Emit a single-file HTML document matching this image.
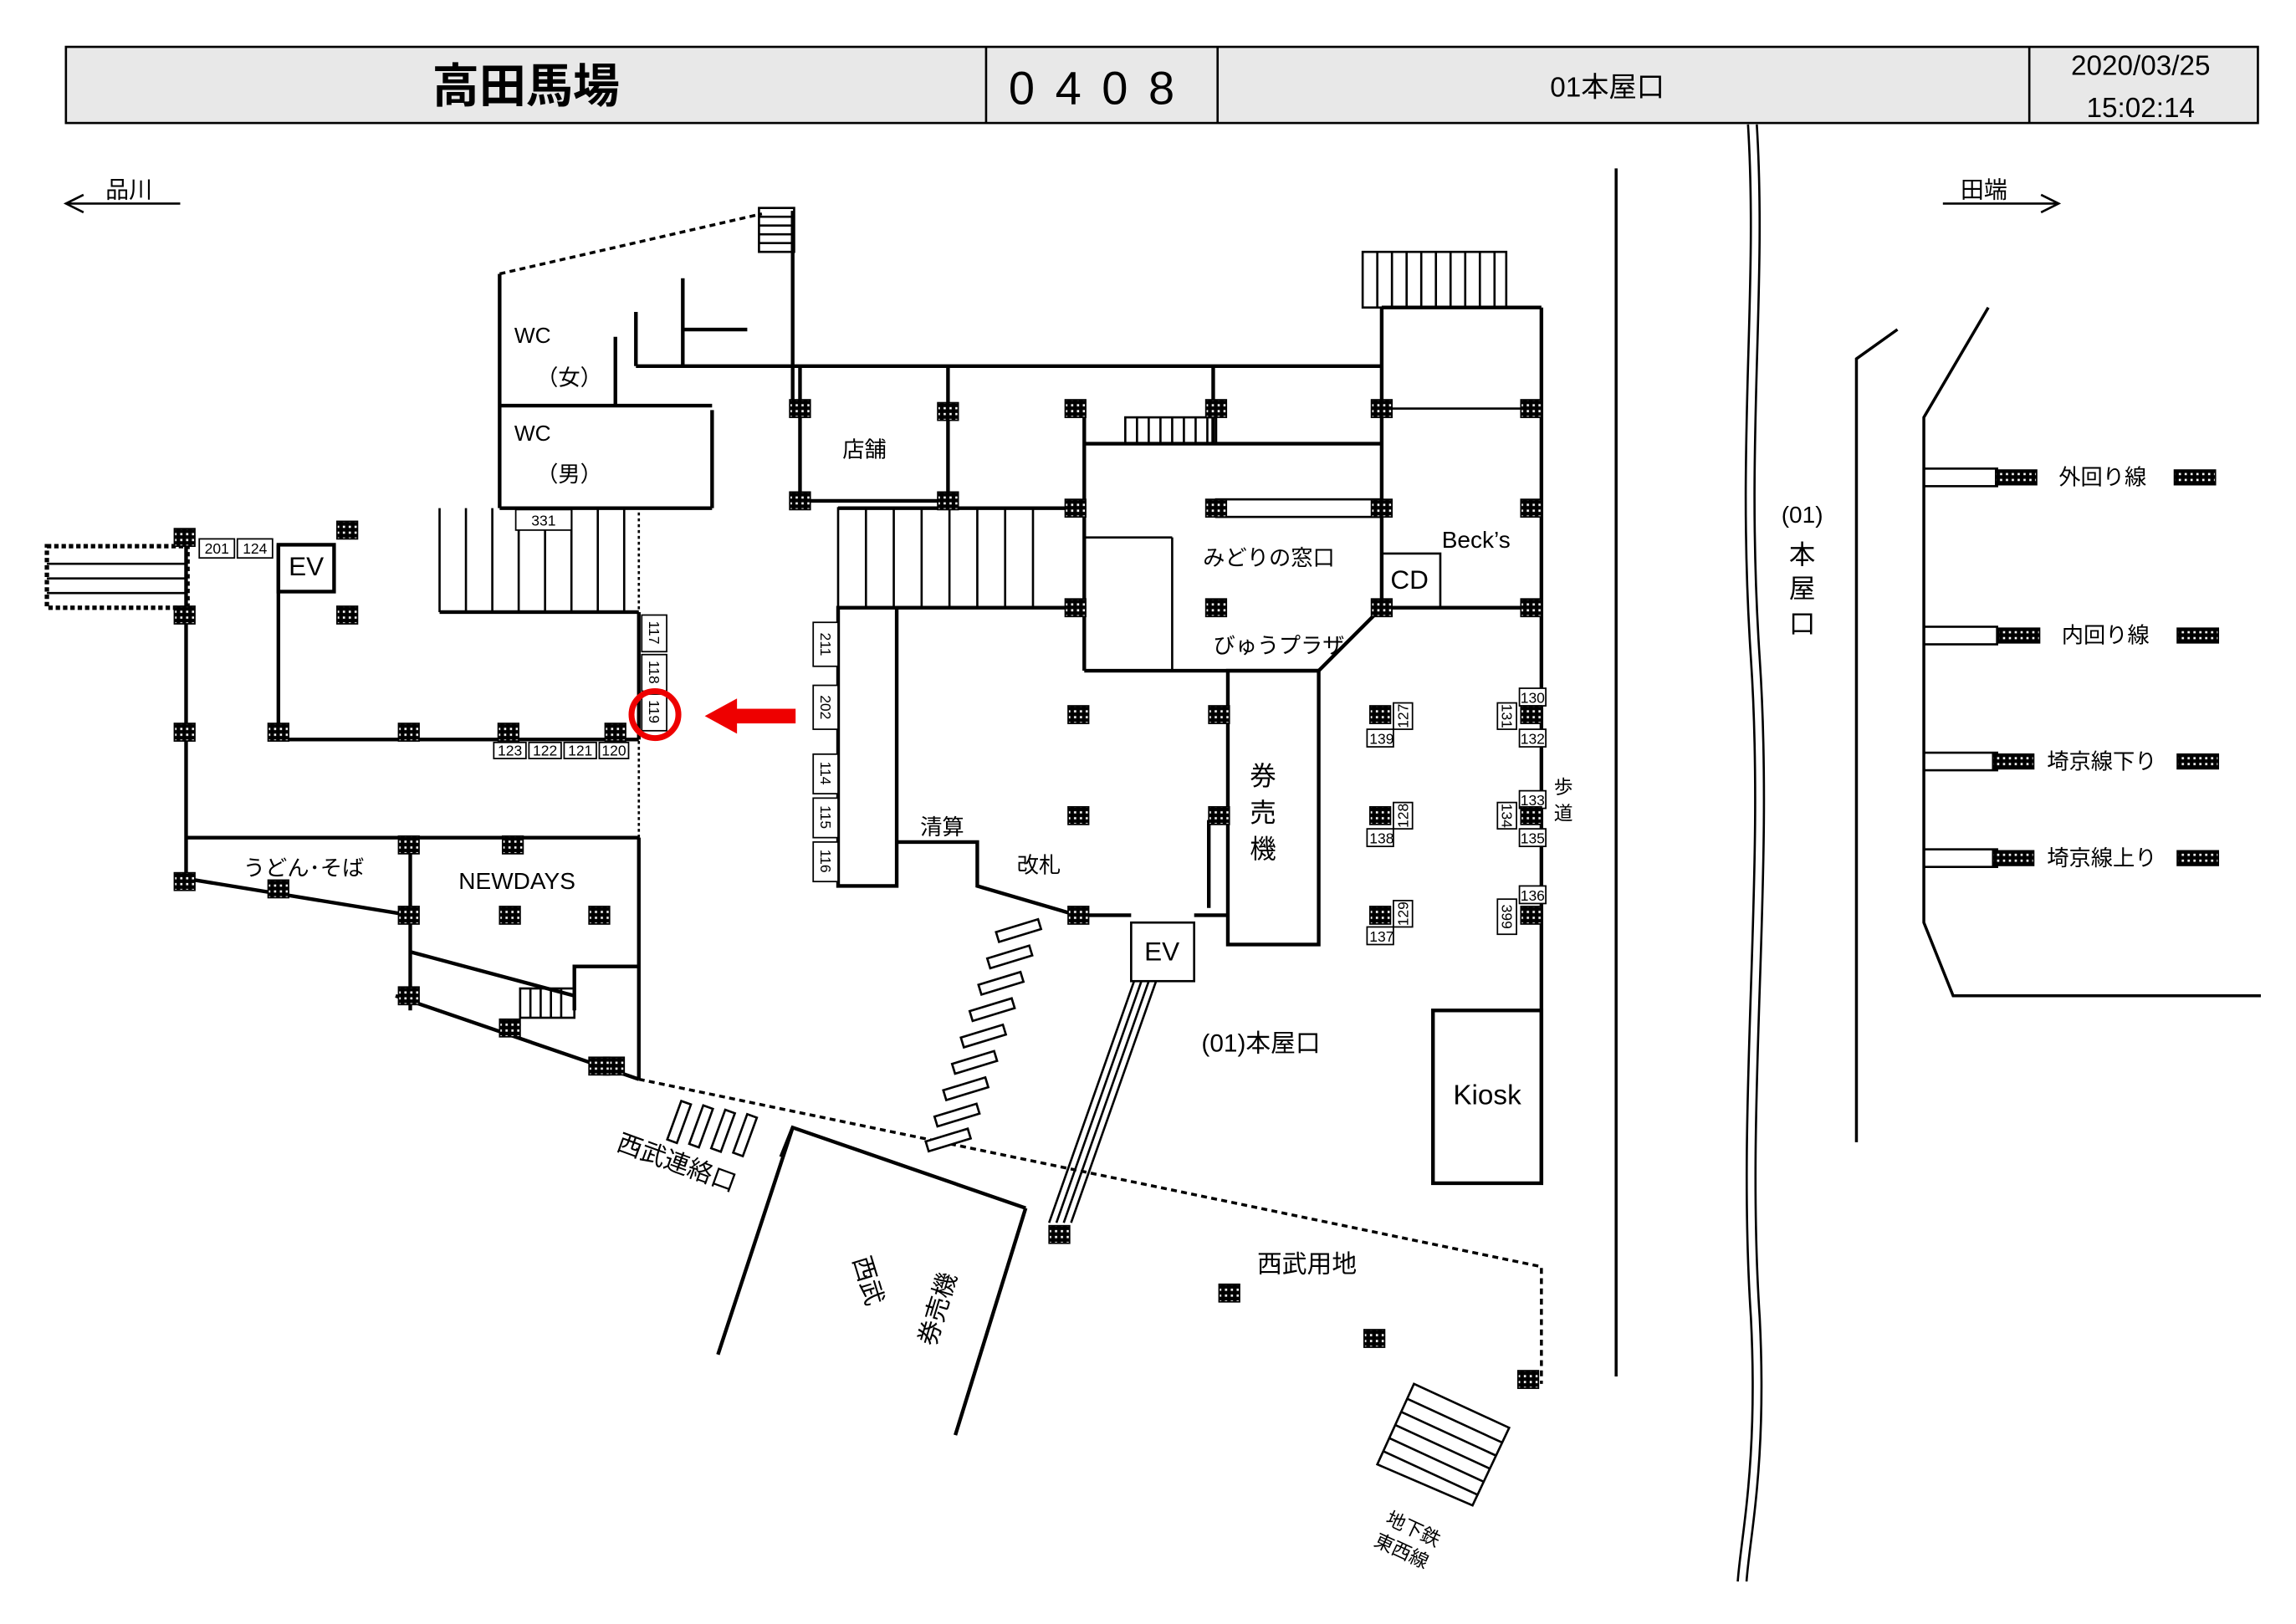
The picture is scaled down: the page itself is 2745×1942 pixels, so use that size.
<!DOCTYPE html>
<html><head><meta charset="utf-8"><style>
html,body{margin:0;padding:0;background:#fff}
svg{display:block}
text{font-family:"Liberation Sans","Noto Sans CJK JP",sans-serif;fill:#000}
</style></head><body>
<svg width="2745" height="1942" viewBox="0 0 1567 1109" preserveAspectRatio="none" xmlns="http://www.w3.org/2000/svg">
<defs>
<pattern id="ck" width="4" height="4" patternUnits="userSpaceOnUse"><rect width="4" height="4" fill="#000"/><rect x="1" y="1" width="1.5" height="1.5" fill="#fff"/></pattern>
<symbol id="p" overflow="visible"><rect x="-7" y="-6" width="14" height="12" fill="url(#ck)" stroke="#000" stroke-width="1"/></symbol>
<symbol id="pl" overflow="visible"><rect x="-14" y="-5" width="28" height="10" fill="url(#ck)" stroke="#000" stroke-width="1"/></symbol>
</defs>
<rect x="45" y="32" width="1496" height="52" fill="#e8e8e8" stroke="#000" stroke-width="1.5"/>
<line x1="673" y1="32" x2="673" y2="84" stroke="#000" stroke-width="1.5"/>
<line x1="831" y1="32" x2="831" y2="84" stroke="#000" stroke-width="1.5"/>
<line x1="1385" y1="32" x2="1385" y2="84" stroke="#000" stroke-width="1.5"/>
<text x="359" y="70" font-size="32" text-anchor="middle" font-weight="bold">高田馬場</text>
<text x="752" y="71" font-size="32" text-anchor="middle" letter-spacing="14">0408</text>
<text x="1097" y="66" font-size="19" text-anchor="middle">01本屋口</text>
<text x="1461" y="51" font-size="19" text-anchor="middle">2020/03/25</text>
<text x="1461" y="80" font-size="19" text-anchor="middle">15:02:14</text>
<g stroke="#000" stroke-width="1.5" fill="none">
<line x1="45" y1="139" x2="123" y2="139"/><polyline points="57,133 45,139 57,145"/>
<line x1="1326" y1="139" x2="1405" y2="139"/><polyline points="1393,133 1405,139 1393,145"/>
</g>
<text x="72" y="135" font-size="16">品川</text>
<text x="1338" y="135" font-size="16">田端</text>

<g stroke="#000" stroke-width="2.5" fill="none">
<line x1="341" y1="187" x2="341" y2="347"/>
<line x1="341" y1="347" x2="486" y2="347"/>
<line x1="486" y1="347" x2="486" y2="280"/>
<line x1="341" y1="277" x2="486" y2="277"/>
<line x1="420" y1="230" x2="420" y2="277"/>
<line x1="434" y1="213" x2="434" y2="250"/>
<line x1="434" y1="250" x2="943" y2="250"/>
<line x1="466" y1="190" x2="466" y2="250"/>
<line x1="466" y1="225" x2="510" y2="225"/>
<line x1="541" y1="144" x2="541" y2="278"/>
<line x1="546" y1="250" x2="546" y2="342"/>
<line x1="546" y1="342" x2="647" y2="342"/>
<line x1="647" y1="250" x2="647" y2="342"/>
<line x1="943" y1="210" x2="1052" y2="210"/>
<line x1="943" y1="210" x2="943" y2="415"/>
<line x1="1052" y1="210" x2="1052" y2="808"/>
<line x1="740" y1="280" x2="740" y2="458"/>
<line x1="740" y1="458" x2="900" y2="458"/>
<line x1="900" y1="458" x2="943" y2="415"/>
<line x1="943" y1="415" x2="1052" y2="415"/>
<line x1="828" y1="250" x2="828" y2="303"/>
<line x1="740" y1="303" x2="943" y2="303"/>
<line x1="572" y1="347" x2="740" y2="347"/>
<rect x="572" y="415" width="40" height="190"/>
<line x1="612" y1="415" x2="740" y2="415"/>
<polyline points="612,575 667,575 667,605 735,625 772,625"/>
<line x1="815" y1="625" x2="838" y2="625"/>
<rect x="838" y="458" width="62" height="187"/>
<line x1="825" y1="560" x2="825" y2="620"/>
<line x1="127" y1="367" x2="127" y2="600"/>
<line x1="127" y1="572" x2="436" y2="572"/>
<line x1="436" y1="572" x2="436" y2="737"/>
<line x1="280" y1="572" x2="280" y2="690"/>
<line x1="127" y1="600" x2="280" y2="625"/>
<line x1="280" y1="650" x2="392" y2="680"/>
<polyline points="392,690 392,660 436,660"/>
<line x1="270" y1="680" x2="436" y2="737"/>
<rect x="190" y="372" width="38" height="32"/>
<line x1="190" y1="372" x2="190" y2="505"/>
<line x1="190" y1="505" x2="436" y2="505"/>
<line x1="300" y1="418" x2="436" y2="418"/>
<line x1="436" y1="418" x2="436" y2="505"/>
<line x1="490" y1="925" x2="541" y2="770"/>
<polyline points="533,790 541,770 700,825"/>
<line x1="700" y1="825" x2="652" y2="980"/>
<rect x="978" y="690" width="74" height="118"/>
</g>
<g stroke="#000" stroke-width="1.5" fill="none">
<rect x="830" y="341" width="113" height="12"/>
<line x1="943" y1="279" x2="1052" y2="279"/>
<line x1="740" y1="367" x2="800" y2="367"/>
<line x1="800" y1="367" x2="800" y2="458"/>
<rect x="943" y="378" width="40" height="37"/>
<rect x="772" y="630" width="43" height="40"/>
<line x1="436" y1="350" x2="436" y2="572" stroke-dasharray="2,2"/>
<rect x="518" y="142" width="24" height="30"/>
<line x1="518" y1="148" x2="542" y2="148"/><line x1="518" y1="154" x2="542" y2="154"/><line x1="518" y1="160" x2="542" y2="160"/><line x1="518" y1="166" x2="542" y2="166"/>
<rect x="930" y="172" width="98" height="38"/>
<line x1="940" y1="172" x2="940" y2="210"/><line x1="950" y1="172" x2="950" y2="210"/><line x1="960" y1="172" x2="960" y2="210"/><line x1="970" y1="172" x2="970" y2="210"/><line x1="980" y1="172" x2="980" y2="210"/><line x1="990" y1="172" x2="990" y2="210"/><line x1="1000" y1="172" x2="1000" y2="210"/><line x1="1010" y1="172" x2="1010" y2="210"/><line x1="1020" y1="172" x2="1020" y2="210"/>
<rect x="768" y="285" width="62" height="18"/>
<line x1="776" y1="285" x2="776" y2="303"/><line x1="784" y1="285" x2="784" y2="303"/><line x1="792" y1="285" x2="792" y2="303"/><line x1="800" y1="285" x2="800" y2="303"/><line x1="808" y1="285" x2="808" y2="303"/><line x1="816" y1="285" x2="816" y2="303"/><line x1="824" y1="285" x2="824" y2="303"/>
<rect x="572" y="347" width="168" height="68"/>
<line x1="591" y1="347" x2="591" y2="415"/><line x1="610" y1="347" x2="610" y2="415"/><line x1="629" y1="347" x2="629" y2="415"/><line x1="648" y1="347" x2="648" y2="415"/><line x1="667" y1="347" x2="667" y2="415"/><line x1="686" y1="347" x2="686" y2="415"/><line x1="705" y1="347" x2="705" y2="415"/>
<line x1="300" y1="347" x2="300" y2="418"/>
<line x1="318" y1="347" x2="318" y2="418"/><line x1="336" y1="347" x2="336" y2="418"/><line x1="354" y1="347" x2="354" y2="418"/><line x1="372" y1="347" x2="372" y2="418"/><line x1="390" y1="347" x2="390" y2="418"/><line x1="408" y1="347" x2="408" y2="418"/><line x1="426" y1="347" x2="426" y2="418"/>
<rect x="355" y="675" width="37" height="20"/>
<line x1="362" y1="675" x2="362" y2="695"/><line x1="369" y1="675" x2="369" y2="695"/><line x1="376" y1="675" x2="376" y2="695"/><line x1="383" y1="675" x2="383" y2="695"/>
<rect x="32" y="373" width="96" height="42" stroke-dasharray="3,2" stroke-width="3"/>
<line x1="32" y1="385" x2="128" y2="385"/><line x1="32" y1="395" x2="128" y2="395"/><line x1="32" y1="405" x2="128" y2="405"/>
<line x1="774" y1="670" x2="716" y2="835"/><line x1="779" y1="670" x2="721" y2="835"/><line x1="784" y1="670" x2="726" y2="835"/><line x1="789" y1="670" x2="731" y2="835"/>
<polygon points="965,945 1030,975 1005,1028 940,1000"/>
<line x1="960" y1="955" x2="1025" y2="985"/><line x1="956" y1="964" x2="1021" y2="994"/><line x1="952" y1="973" x2="1017" y2="1003"/><line x1="948" y1="982" x2="1013" y2="1012"/><line x1="944" y1="991" x2="1009" y2="1021"/>
<line x1="341" y1="187" x2="520" y2="146" stroke-dasharray="4,3" stroke-width="2"/>
<polyline points="436,737 1052,865 1052,945" stroke-dasharray="4,3" stroke-width="2"/>
<line x1="1103" y1="115" x2="1103" y2="940" stroke-width="2"/>
<path d="M1193,85 C1200,200 1185,300 1195,450 C1205,600 1185,750 1195,900 C1200,1000 1188,1050 1186,1080" stroke-width="1.5"/>
<path d="M1199,85 C1206,200 1191,300 1201,450 C1211,600 1191,750 1201,900 C1206,1000 1194,1050 1192,1080" stroke-width="1.5"/>
<polyline points="1267,780 1267,245 1295,225" stroke-width="2"/>
<polyline points="1357,210 1313,285 1313,630 1333,680 1543,680" stroke-width="2"/>
<rect x="1313" y="320" width="50" height="12"/><rect x="1313" y="428" width="50" height="12"/><rect x="1313" y="514" width="50" height="12"/><rect x="1313" y="580" width="50" height="12"/>
</g>
<g stroke="#000" stroke-width="1.5" fill="#fff">
<rect x="680" y="632" width="30" height="7" transform="rotate(-17 695 635)"/>
<rect x="674" y="650" width="30" height="7" transform="rotate(-17 689 653)"/>
<rect x="668" y="668" width="30" height="7" transform="rotate(-17 683 671)"/>
<rect x="662" y="686" width="30" height="7" transform="rotate(-17 677 689)"/>
<rect x="656" y="704" width="30" height="7" transform="rotate(-17 671 707)"/>
<rect x="650" y="722" width="30" height="7" transform="rotate(-17 665 725)"/>
<rect x="644" y="740" width="30" height="7" transform="rotate(-17 659 743)"/>
<rect x="638" y="758" width="30" height="7" transform="rotate(-17 653 761)"/>
<rect x="632" y="775" width="30" height="7" transform="rotate(-17 647 778)"/>
<rect x="460" y="752" width="7" height="28" transform="rotate(20 463 766)"/>
<rect x="475" y="755" width="7" height="28" transform="rotate(20 478 769)"/>
<rect x="490" y="758" width="7" height="28" transform="rotate(20 493 772)"/>
<rect x="505" y="761" width="7" height="28" transform="rotate(20 508 775)"/>
</g>
<g stroke="#000" stroke-width="1" fill="#fff">
<rect x="352" y="348" width="38" height="14"/>
<rect x="136" y="368" width="24" height="13"/><rect x="162" y="368" width="24" height="13"/>
<rect x="438" y="420" width="17" height="25"/><rect x="438" y="447" width="17" height="25"/><rect x="438" y="474" width="17" height="25"/>
<rect x="337" y="507" width="22" height="11"/><rect x="361" y="507" width="22" height="11"/><rect x="385" y="507" width="22" height="11"/><rect x="409" y="507" width="20" height="11"/>
<rect x="555" y="425" width="17" height="30"/><rect x="555" y="468" width="17" height="30"/><rect x="555" y="515" width="17" height="27"/><rect x="555" y="545" width="17" height="27"/><rect x="555" y="575" width="17" height="27"/>
<rect x="951" y="480" width="13" height="18"/><rect x="933" y="498" width="18" height="12"/>
<rect x="951" y="548" width="13" height="18"/><rect x="933" y="566" width="18" height="12"/>
<rect x="951" y="615" width="13" height="18"/><rect x="933" y="633" width="18" height="12"/>
<rect x="1037" y="470" width="18" height="12"/><rect x="1022" y="480" width="13" height="18"/><rect x="1037" y="498" width="18" height="12"/>
<rect x="1037" y="540" width="18" height="12"/><rect x="1022" y="548" width="13" height="18"/><rect x="1037" y="566" width="18" height="12"/>
<rect x="1037" y="605" width="18" height="12"/><rect x="1022" y="614" width="13" height="24"/>
</g>
<g font-size="10" text-anchor="middle">
<text x="371" y="359">331</text><text x="148" y="378">201</text><text x="174" y="378">124</text>
<text x="348" y="516">123</text><text x="372" y="516">122</text><text x="396" y="516">121</text><text x="419" y="516">120</text>
<text x="943" y="508">139</text><text x="943" y="576">138</text><text x="943" y="643">137</text>
<text x="1046" y="480">130</text><text x="1046" y="508">132</text><text x="1046" y="550">133</text><text x="1046" y="576">135</text><text x="1046" y="615">136</text>
<text transform="translate(443,432) rotate(90)">117</text><text transform="translate(443,459) rotate(90)">118</text><text transform="translate(443,486) rotate(90)">119</text>
<text transform="translate(560,440) rotate(90)">211</text><text transform="translate(560,483) rotate(90)">202</text><text transform="translate(560,528) rotate(90)">114</text><text transform="translate(560,558) rotate(90)">115</text><text transform="translate(560,588) rotate(90)">116</text>
<text transform="translate(961,489) rotate(-90)">127</text><text transform="translate(961,557) rotate(-90)">128</text><text transform="translate(961,624) rotate(-90)">129</text>
<text transform="translate(1025,489) rotate(90)">131</text><text transform="translate(1025,557) rotate(90)">134</text><text transform="translate(1025,626) rotate(90)">399</text>
</g>
<g>
<use href="#p" x="126" y="367"/><use href="#p" x="237" y="362"/><use href="#p" x="237" y="420"/><use href="#p" x="126" y="420"/>
<use href="#p" x="126" y="500"/><use href="#p" x="190" y="500"/><use href="#p" x="279" y="500"/><use href="#p" x="347" y="500"/><use href="#p" x="420" y="500"/>
<use href="#p" x="126" y="602"/><use href="#p" x="190" y="607"/><use href="#p" x="279" y="577"/><use href="#p" x="350" y="577"/><use href="#p" x="279" y="625"/><use href="#p" x="348" y="625"/><use href="#p" x="409" y="625"/>
<use href="#p" x="279" y="680"/><use href="#p" x="348" y="702"/><use href="#p" x="419" y="728"/><use href="#p" x="409" y="728"/>
<use href="#p" x="546" y="279"/><use href="#p" x="647" y="281"/><use href="#p" x="546" y="342"/><use href="#p" x="647" y="342"/>
<use href="#p" x="734" y="279"/><use href="#p" x="830" y="279"/><use href="#p" x="943" y="279"/><use href="#p" x="1045" y="279"/>
<use href="#p" x="734" y="347"/><use href="#p" x="830" y="347"/><use href="#p" x="943" y="347"/><use href="#p" x="1045" y="347"/>
<use href="#p" x="734" y="415"/><use href="#p" x="830" y="415"/><use href="#p" x="943" y="415"/><use href="#p" x="1045" y="415"/>
<use href="#p" x="736" y="488"/><use href="#p" x="832" y="488"/><use href="#p" x="736" y="557"/><use href="#p" x="832" y="557"/><use href="#p" x="736" y="625"/>
<use href="#p" x="942" y="488"/><use href="#p" x="942" y="557"/><use href="#p" x="942" y="625"/>
<use href="#p" x="1045" y="488"/><use href="#p" x="1045" y="557"/><use href="#p" x="1045" y="625"/>
<use href="#p" x="723" y="843"/><use href="#p" x="839" y="883"/><use href="#p" x="938" y="914"/><use href="#p" x="1043" y="942"/>
<use href="#pl" x="1376" y="326"/><use href="#pl" x="1498" y="326"/><use href="#pl" x="1378" y="434"/><use href="#pl" x="1500" y="434"/>
<use href="#pl" x="1374" y="520"/><use href="#pl" x="1500" y="520"/><use href="#pl" x="1374" y="586"/><use href="#pl" x="1500" y="586"/>
</g>
<g font-size="15">
<text x="351" y="234">WC</text><text x="366" y="263">（女）</text>
<text x="351" y="301">WC</text><text x="366" y="329">（男）</text>
<text x="575" y="312">店舗</text>
<text x="821" y="386">みどりの窓口</text>
<text x="828" y="446">びゅうプラザ</text>
<text x="984" y="374" font-size="16">Beck’s</text>
<text x="962" y="402" font-size="18" text-anchor="middle">CD</text>
<text x="209" y="393" font-size="18" text-anchor="middle">EV</text>
<text x="793" y="656" font-size="18" text-anchor="middle">EV</text>
<text x="166" y="598">うどん･そば</text>
<text x="313" y="607" font-size="16">NEWDAYS</text>
<text x="628" y="570">清算</text>
<text x="694" y="596">改札</text>
<text x="820" y="718" font-size="17">(01)本屋口</text>
<text x="1015" y="754" font-size="19" text-anchor="middle">Kiosk</text>
<text x="858" y="869" font-size="17">西武用地</text>
<text x="1405" y="331">外回り線</text><text x="1407" y="439">内回り線</text><text x="1397" y="525">埼京線下り</text><text x="1397" y="591">埼京線上り</text>
</g>
<g font-size="18" text-anchor="middle">
<text x="862" y="536">券</text><text x="862" y="561">売</text><text x="862" y="586">機</text>
<text x="1230" y="357" font-size="16">(01)</text><text x="1230" y="385">本</text><text x="1230" y="408">屋</text><text x="1230" y="432">口</text>
</g>
<g font-size="13" text-anchor="middle"><text x="1067" y="542">歩</text><text x="1067" y="560">道</text></g>
<text transform="translate(420,785) rotate(20)" font-size="17">西武連絡口</text>
<text transform="translate(582,860) rotate(73)" font-size="17">西武</text>
<text transform="translate(638,920) rotate(-73)" font-size="17">券売機</text>
<text transform="translate(945,1040) rotate(25)" font-size="13">地下鉄</text>
<text transform="translate(937,1055) rotate(25)" font-size="13">東西線</text>
<circle cx="447" cy="488" r="16" fill="none" stroke="#e00" stroke-width="4"/>
<rect x="500" y="484" width="43" height="10" fill="#e00"/>
<polygon points="481,489 503,477 503,501" fill="#e00"/>
</svg>
</body></html>
